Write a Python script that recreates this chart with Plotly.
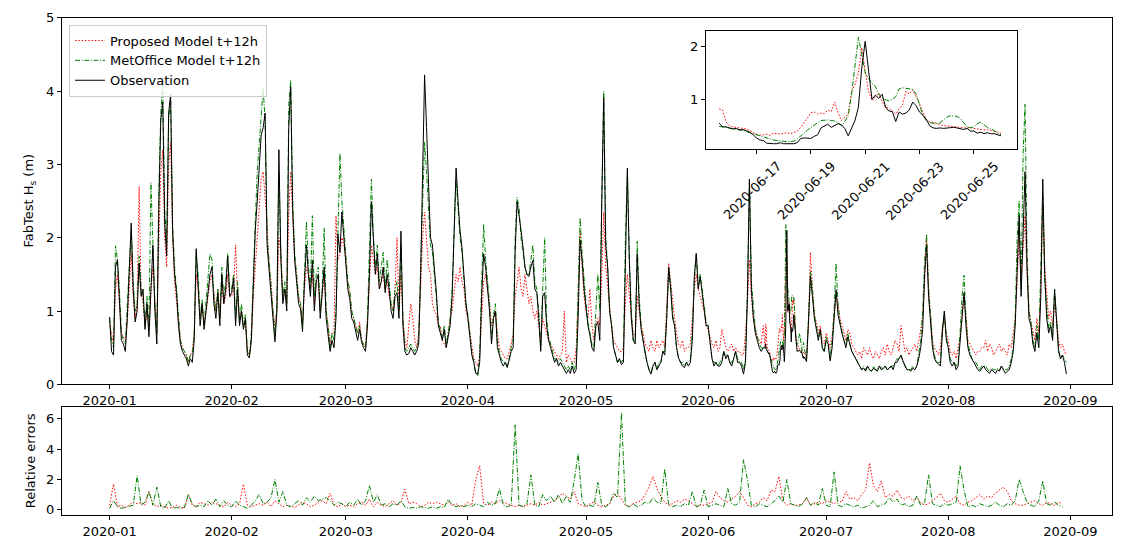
import pandas as pd
import plotly.graph_objects as go

# ---------------- data (12-hourly, per month) ----------------
month_starts = ["2020-01-01", "2020-02-01", "2020-03-01", "2020-04-01",
                "2020-05-01", "2020-06-01", "2020-07-01", "2020-08-01"]

obs_jan = [0.92,0.45, 0.40,1.6, 1.7,1.2, 0.6,0.55, 0.45,0.9, 1.5,2.2, 1.3,0.85, 1.0,1.65, 1.2,1.3, 0.75,1.1, 0.65,1.4, 1.9,1.0, 0.55,2.4, 3.6,3.85, 2.2,1.75, 3.7,3.95, 2.1,1.5, 1.25,0.8, 0.55,0.45, 0.4,0.35, 0.25,0.35, 0.3,0.6, 1.85,1.4, 0.8,1.1, 0.75,1.0, 1.3,1.5, 1.6,1.1, 0.9,1.25, 0.8,1.5, 1.1,1.3, 1.75,1.2]
obs_feb = [1.25,1.45, 0.8,1.3, 0.8,1.0, 0.75,0.9, 0.4,0.36, 0.6,1.5, 2.1,2.5, 3.0,3.4, 3.5,3.7, 1.9,1.6, 1.2,0.9, 0.58,1.0, 3.2,1.7, 1.1,1.3, 1.0,3.5, 4.06,2.4, 1.7,1.4, 1.1,1.03, 0.72,1.4, 1.9,1.5, 1.2,1.69, 1.0,1.4, 1.5,0.9, 1.2,1.6, 0.9,0.7, 0.45,0.6, 0.5,0.9, 2.05,1.8, 2.35,2.0]
obs_mar = [1.6,1.3, 1.16,0.9, 0.85,0.7, 0.6,0.75, 0.58,0.5, 0.45,0.8, 1.5,2.49, 1.9,1.5, 1.78,1.3, 1.4,1.6, 1.25,1.5, 1.3,1.0, 0.9,1.2, 1.25,0.9, 2.09,0.8, 0.45,0.4, 0.42,0.5, 0.45,0.4, 0.45,0.55, 1.5,2.8, 4.22,3.5, 2.6,2.0, 1.9,1.6, 1.25,0.8, 0.7,0.6, 0.75,0.5, 0.65,0.8, 1.2,2.0, 2.95,2.5, 2.1,1.87, 1.5,1.1]
obs_apr = [0.9,0.6, 0.4,0.3, 0.15,0.14, 0.3,1.2, 1.78,1.6, 1.34,1.0, 0.55,0.9, 1.0,0.5, 0.4,0.3, 0.25,0.3, 0.23,0.35, 0.45,0.5, 1.8,2.49, 2.31,2.1, 1.87,1.6, 1.5,1.47, 1.6,1.69, 1.3,1.25, 0.9,0.45, 1.2,1.25, 0.8,0.6, 0.5,0.4, 0.3,0.35, 0.25,0.3, 0.25,0.2, 0.15,0.2, 0.15,0.25, 0.15,0.2, 0.9,1.96, 1.69,1.3]
obs_may = [1.0,0.8, 0.67,0.5, 0.45,0.8, 0.85,0.6, 2.5,3.91, 1.9,1.6, 1.0,0.8, 0.5,0.4, 0.3,0.35, 0.27,0.3, 1.8,2.95, 1.69,0.9, 0.6,0.55, 1.78,1.1, 0.75,0.6, 0.4,0.3, 0.2,0.14, 0.25,0.3, 0.2,0.25, 0.3,0.45, 0.4,0.9, 1.6,1.3, 0.9,0.8, 0.5,0.36, 0.3,0.25, 0.23,0.3, 0.25,0.3, 0.6,1.47, 1.78,1.3, 1.47,1.25, 1.1,0.8]
obs_jun = [0.8,0.6, 0.35,0.25, 0.3,0.25, 0.25,0.3, 0.45,0.35, 0.4,0.3, 0.25,0.35, 0.45,0.3, 0.3,0.25, 0.14,0.3, 1.2,2.8, 1.3,0.9, 0.7,0.6, 0.5,0.45, 0.5,0.5, 0.45,0.4, 0.25,0.16, 0.16,0.18, 0.28,0.5, 0.53,0.45, 2.1,1.0, 0.77,0.74, 0.75,0.46, 0.46,0.45, 0.4,0.37, 0.31,0.85, 1.47,1.2, 0.9,0.75, 0.6,0.75, 0.5,0.45]
obs_jul = [0.6,0.55, 0.32,0.5, 0.9,1.29, 0.95,0.8, 0.7,0.6, 0.5,0.65, 0.55,0.45, 0.4,0.35, 0.3,0.25, 0.2,0.22, 0.18,0.25, 0.2,0.18, 0.22,0.2, 0.18,0.25, 0.2,0.22, 0.25,0.2, 0.22,0.25, 0.2,0.3, 0.3,0.35, 0.4,0.32, 0.25,0.2, 0.2,0.18, 0.22,0.2, 0.25,0.35, 0.5,0.75, 1.5,1.9, 1.2,0.9, 0.5,0.35, 0.3,0.28, 0.25,0.7, 1.0,0.6]
obs_aug = [0.5,0.3, 0.25,0.3, 0.2,0.25, 0.6,1.0, 1.25,0.8, 0.5,0.4, 0.35,0.3, 0.25,0.2, 0.18,0.22, 0.25,0.2, 0.18,0.15, 0.2,0.18, 0.15,0.2, 0.18,0.25, 0.2,0.15, 0.18,0.2, 0.3,0.45, 0.8,1.6, 2.3,1.2, 2.0,2.9, 1.6,0.9, 0.8,0.55, 0.45,0.7, 0.5,1.2, 2.8,1.5, 0.9,0.7, 0.8,0.6, 1.29,0.8, 0.45,0.35, 0.4,0.3, 0.14]

prop_jan = [0.8,0.7, 0.55,1.3, 1.5,1.1, 0.7,0.65, 0.6,0.85, 1.4,1.8, 1.2,0.9, 1.1,2.7, 1.3,1.1, 0.8,1.0, 0.75,1.3, 1.6,1.1, 0.7,1.9, 2.9,3.2, 2.0,1.6, 3.0,3.3, 2.0,1.4, 1.1,0.8, 0.6,0.5, 0.45,0.4, 0.3,0.4, 0.45,0.7, 1.5,1.3, 0.9,1.1, 0.8,1.0, 1.2,1.4, 1.5,1.2, 1.0,1.3, 0.9,1.4, 1.1,1.2, 1.5,1.2]
prop_feb = [1.2,1.3, 1.9,1.2, 0.9,1.0, 0.8,0.85, 0.45,0.4, 0.6,1.2, 1.6,2.0, 2.3,2.8, 2.9,2.5, 2.2,1.6, 1.4,1.0, 0.8,1.0, 2.0,1.8, 1.2,1.3, 1.1,2.3, 2.9,2.3, 1.7,1.5, 1.2,1.1, 0.85,1.3, 1.6,1.5, 1.3,1.5, 1.1,1.4, 1.4,1.0, 1.2,1.5, 1.0,0.8, 0.55,0.7, 0.7,2.3, 1.7,1.8, 2.0,1.9]
prop_mar = [1.7,1.4, 1.2,1.0, 0.9,0.8, 0.7,0.85, 0.6,0.55, 0.5,0.9, 1.4,1.9, 1.7,1.5, 1.6,1.3, 1.4,1.5, 1.3,1.4, 1.2,1.1, 1.0,1.3, 2.0,1.0, 1.5,0.9, 0.6,0.5, 0.8,1.1, 0.9,0.6, 0.5,0.7, 1.3,2.0, 2.35,2.0, 1.6,1.5, 1.1,1.0, 0.95,0.8, 0.8,0.6, 0.55,0.5, 0.7,0.9, 1.0,1.3, 1.5,1.4, 1.6,1.4, 1.3,1.0]
prop_apr = [0.9,0.7, 0.5,0.35, 0.3,0.25, 0.4,1.0, 1.4,1.5, 1.3,1.1, 0.8,0.9, 1.0,0.7, 0.5,0.45, 0.4,0.35, 0.35,0.45, 0.55,0.7, 1.2,1.4, 1.6,1.3, 1.2,1.5, 1.3,1.1, 1.2,1.0, 0.9,1.0, 0.8,0.6, 0.9,0.8, 0.7,0.6, 0.55,0.5, 0.45,0.4, 0.35,0.4, 0.45,1.0, 0.3,0.4, 0.35,0.3, 0.3,0.5, 1.2,2.1, 1.6,1.2]
prop_may = [1.0,0.9, 1.3,0.8, 0.6,0.8, 0.9,0.8, 1.5,2.35, 1.6,1.3, 1.0,0.8, 0.6,0.55, 0.5,0.45, 0.45,0.5, 1.1,1.5, 1.2,0.9, 0.7,0.65, 1.2,1.0, 0.8,0.7, 0.55,0.5, 0.45,0.6, 0.5,0.45, 0.6,0.5, 0.55,0.6, 0.5,1.0, 1.65,1.4, 1.1,0.9, 0.7,0.55, 0.5,0.6, 0.45,0.5, 0.5,0.55, 0.9,1.3, 1.5,1.3, 1.2,1.1, 1.0,0.8]
prop_jun = [0.75,0.65, 0.55,0.5, 0.6,0.45, 0.5,0.75, 0.6,0.5, 0.45,0.5, 0.55,0.45, 0.5,0.45, 0.45,0.4, 0.4,0.7, 1.1,1.7, 1.2,0.9, 0.75,0.65, 0.6,0.55, 0.8,0.5, 0.47,0.44, 0.34,0.33, 0.36,0.4, 0.75,0.73, 0.75,0.66, 1.98,1.1, 0.78,0.9, 0.92,0.57, 0.5,0.48, 0.47,0.44, 0.4,0.8, 1.8,1.3, 0.95,0.85, 0.7,0.8, 0.6,0.55]
prop_jul = [0.7,0.6, 0.5,0.65, 0.9,1.2, 1.1,0.9, 0.8,0.7, 0.6,0.75, 0.7,0.55, 0.5,0.45, 0.4,0.45, 0.35,0.5, 0.45,0.4, 0.5,0.4, 0.35,0.45, 0.4,0.35, 0.45,0.5, 0.4,0.55, 0.45,0.4, 0.5,0.6, 0.55,0.45, 0.8,0.6, 0.45,0.5, 0.4,0.45, 0.5,0.55, 0.45,0.6, 0.7,0.9, 1.4,2.0, 1.3,0.95, 0.6,0.5, 0.45,0.4, 0.5,0.8, 0.9,0.7]
prop_aug = [0.6,0.45, 0.4,0.45, 0.35,0.5, 0.65,0.9, 1.2,0.95, 0.6,0.55, 0.5,0.45, 0.4,0.45, 0.45,0.5, 0.5,0.6, 0.45,0.55, 0.5,0.4, 0.45,0.5, 0.55,0.45, 0.5,0.45, 0.4,0.55, 0.5,0.7, 0.9,1.4, 2.0,1.4, 1.9,2.3, 1.5,1.0, 0.85,0.7, 0.6,0.9, 0.7,1.3, 2.4,1.6, 1.2,0.9, 1.0,0.8, 1.1,0.9, 0.6,0.5, 0.55,0.45, 0.4]

met_jan = [0.9,0.6, 0.5,1.89, 1.7,1.3, 0.7,0.6, 0.55,1.0, 1.6,2.1, 1.4,1.0, 1.1,1.75, 1.3,1.2, 0.8,1.2, 0.8,2.75, 2.0,1.1, 0.7,2.6, 3.7,4.1, 2.4,1.9, 3.6,3.9, 2.2,1.6, 1.3,0.9, 0.6,0.5, 0.45,0.4, 0.3,0.4, 0.4,0.7, 1.8,1.5, 0.9,1.15, 0.8,1.1, 1.4,1.78, 1.7,1.2, 1.0,1.3, 0.9,1.6, 1.2,1.4, 1.78,1.3]
met_feb = [1.3,1.5, 0.9,1.4, 0.85,1.1, 0.8,0.95, 0.45,0.4, 0.7,1.6, 2.2,2.9, 3.3,3.6, 4.04,3.6, 2.0,1.7, 1.3,1.0, 0.65,1.1, 2.9,1.8, 1.2,1.4, 1.1,3.8, 4.15,2.5, 1.8,1.5, 1.2,1.1, 0.8,1.5, 2.22,1.6, 1.3,2.3, 1.2,1.5, 1.6,1.0, 1.3,2.13, 1.0,0.8, 0.5,0.7, 0.6,1.0, 2.3,3.15, 2.5,2.1]
met_mar = [1.7,1.4, 1.3,1.0, 0.9,0.8, 0.7,0.8, 0.6,0.55, 0.5,0.9, 1.7,2.8, 2.0,1.6, 1.9,1.4, 1.6,1.8, 1.3,1.7, 1.4,1.1, 1.0,1.3, 1.4,1.0, 1.9,0.9, 0.5,0.45, 0.5,0.55, 0.5,0.45, 0.5,0.6, 1.6,2.5, 3.3,2.9, 2.3,1.9, 1.8,1.5, 1.2,0.85, 0.75,0.65, 0.8,0.55, 0.7,0.9, 1.3,2.2, 2.8,2.4, 2.0,1.8, 1.5,1.1]
met_apr = [0.95,0.65, 0.45,0.3, 0.15,0.12, 0.4,1.4, 2.18,1.7, 1.4,1.1, 0.6,0.95, 1.1,0.55, 0.45,0.35, 0.3,0.3, 0.25,0.35, 0.5,0.6, 2.0,2.55, 2.4,2.0, 1.8,1.6, 1.5,1.5, 1.7,1.9, 1.4,1.3, 1.0,0.5, 1.3,2.0, 0.9,0.65, 0.55,0.45, 0.35,0.35, 0.3,0.35, 0.3,0.25, 0.2,0.25, 0.2,0.3, 0.2,0.3, 1.2,2.27, 1.8,1.4]
met_may = [1.1,0.85, 0.7,0.55, 0.5,1.0, 1.5,1.0, 2.8,4.0, 2.0,1.6, 1.0,0.8, 0.5,0.4, 0.3,0.35, 0.3,0.35, 2.0,2.9, 1.7,1.0, 0.6,0.6, 1.95,1.2, 0.8,0.6, 0.4,0.3, 0.2,0.15, 0.25,0.3, 0.2,0.3, 0.3,0.45, 0.45,0.95, 1.55,1.35, 0.95,0.8, 0.5,0.35, 0.3,0.3, 0.25,0.3, 0.3,0.35, 0.7,1.4, 1.8,1.35, 1.5,1.3, 1.1,0.85]
met_jun = [0.8,0.6, 0.35,0.3, 0.3,0.25, 0.3,0.35, 0.45,0.4, 0.4,0.3, 0.3,0.35, 0.45,0.35, 0.3,0.3, 0.2,0.35, 1.3,2.75, 1.4,1.0, 0.75,0.65, 0.55,0.5, 0.5,0.49, 0.46,0.43, 0.32,0.24, 0.21,0.2, 0.4,0.56, 0.6,0.5, 1.5,1.1, 1.0,1.2, 0.7,0.54, 0.66,0.64, 0.48,0.57, 0.33,0.9, 1.55,1.3, 0.95,0.8, 0.65,0.75, 0.5,0.45]
met_jul = [0.65,0.55, 0.35,0.6, 1.0,1.65, 1.1,0.85, 0.7,0.6, 0.55,0.7, 0.55,0.45, 0.4,0.35, 0.3,0.25, 0.2,0.25, 0.2,0.25, 0.2,0.18, 0.25,0.2, 0.2,0.25, 0.22,0.2, 0.25,0.2, 0.2,0.25, 0.25,0.3, 0.35,0.35, 0.4,0.3, 0.25,0.2, 0.2,0.2, 0.25,0.2, 0.25,0.4, 0.6,1.0, 1.7,2.05, 1.3,0.95, 0.55,0.4, 0.3,0.3, 0.3,0.75, 1.0,0.65]
met_aug = [0.5,0.35, 0.3,0.3, 0.25,0.3, 0.7,1.2, 1.49,0.9, 0.55,0.45, 0.35,0.3, 0.3,0.25, 0.2,0.25, 0.25,0.25, 0.2,0.18, 0.22,0.2, 0.2,0.22, 0.2,0.25, 0.22,0.2, 0.2,0.25, 0.35,0.5, 0.9,2.0, 2.5,1.3, 3.13,3.82, 1.8,1.0, 0.85,0.6, 0.5,0.8, 0.6,1.5, 2.6,1.4, 1.0,0.75, 0.85,0.65, 1.3,0.85, 0.5,0.35, 0.4,0.35, 0.3]

# ---------------- inset period (3-hourly from 2020-06-15 15:00) ----------------
inset_start = "2020-06-15 15:00"
obs_inset = [0.55,0.48,0.48,0.46,0.44,0.45,0.42,0.43,0.41,0.38,0.33,0.27,0.23,0.22,0.17,0.16,
             0.16,0.16,0.18,0.16,0.16,0.15,0.16,0.18,0.26,0.27,0.27,0.26,0.30,0.33,0.46,0.50,
             0.53,0.47,0.50,0.54,0.52,0.45,0.31,0.45,0.60,0.85,1.60,2.10,1.50,1.00,1.08,1.02,
             1.10,0.85,0.78,0.77,0.58,0.76,0.72,0.74,0.80,0.95,0.88,0.76,0.70,0.62,0.50,0.46,
             0.45,0.46,0.45,0.46,0.46,0.47,0.46,0.45,0.43,0.45,0.40,0.40,0.36,0.38,0.35,0.37,
             0.35,0.35,0.33,0.31]
prop_inset = [0.82,0.80,0.58,0.50,0.48,0.47,0.47,0.45,0.44,0.41,0.37,0.34,0.32,0.33,0.34,0.32,
              0.36,0.35,0.34,0.36,0.37,0.35,0.37,0.40,0.47,0.55,0.65,0.75,0.76,0.72,0.74,0.73,
              0.80,0.77,0.95,0.75,0.60,0.66,0.72,1.15,1.28,1.50,1.98,1.55,1.15,0.98,1.05,1.12,
              0.95,0.85,0.84,0.78,0.72,0.82,0.90,1.15,1.10,1.18,1.05,0.92,0.75,0.62,0.58,0.57,
              0.55,0.52,0.50,0.50,0.49,0.48,0.48,0.47,0.46,0.46,0.47,0.45,0.44,0.43,0.42,0.43,
              0.41,0.40,0.38,0.36]
met_inset = [0.49,0.48,0.47,0.46,0.45,0.44,0.42,0.41,0.39,0.37,0.34,0.32,0.30,0.28,0.26,0.24,
             0.23,0.22,0.21,0.20,0.20,0.20,0.21,0.25,0.30,0.36,0.42,0.47,0.52,0.56,0.60,0.61,
             0.61,0.60,0.59,0.56,0.50,0.58,0.70,1.10,1.70,2.18,1.85,1.50,1.40,1.30,1.25,1.10,
             1.02,1.00,0.97,1.00,1.05,1.20,1.22,1.21,1.20,1.19,1.10,0.90,0.70,0.60,0.56,0.55,
             0.54,0.55,0.60,0.66,0.69,0.69,0.68,0.64,0.55,0.48,0.46,0.48,0.54,0.57,0.52,0.47,
             0.44,0.41,0.36,0.33]

# ---------------- relative errors (daily) ----------------
errp_jan = [0.3,1.7,0.2,0.3,0.15,0.3,0.5,0.4,0.5,0.3,1.2,0.4,0.2,0.3,0.2,0.1,0.15,0.3,0.15,0.1,1.0,0.3,0.2,0.5,0.4,0.3,0.5,0.4,0.3,0.2,0.5]
errp_feb = [0.3,0.2,0.4,1.7,0.3,0.2,0.3,0.4,0.3,0.5,0.2,0.6,0.4,0.2,0.3,0.2,0.15,0.3,0.5,0.4,0.2,0.3,0.5,0.6,0.4,1.1,0.3,0.2,0.4]
errp_mar = [0.2,0.3,0.2,0.4,0.5,0.3,0.7,0.2,0.5,0.3,0.2,0.4,0.6,0.3,0.5,1.35,0.4,0.5,0.4,0.2,0.3,0.5,0.4,0.5,0.4,0.3,0.5,0.3,0.4,0.2,0.3]
errp_apr = [0.5,0.3,2.0,2.9,0.4,0.3,0.5,0.4,0.6,0.5,0.4,0.3,0.2,0.3,0.2,0.3,0.4,0.3,0.5,0.3,0.4,0.5,0.6,0.8,1.1,0.9,0.7,1.2,0.4,0.3]
errp_may = [0.2,0.4,0.5,0.3,0.2,0.3,0.4,0.9,1.1,0.7,0.3,0.2,0.4,0.5,0.6,1.0,1.5,2.2,1.4,0.9,0.5,0.3,0.4,0.6,0.5,0.7,0.6,0.4,0.2,0.3,0.3]
errp_jun = [0.4,0.5,1.2,0.8,0.6,0.5,0.7,0.9,1.2,0.8,0.3,0.2,0.4,0.5,0.8,0.6,1.3,1.2,2.2,0.6,0.3,0.4,0.3,0.3,0.4,0.8,0.3,0.4,0.5,0.4]
errp_jul = [0.6,0.5,0.4,0.6,0.5,1.2,0.7,0.8,0.6,1.0,1.3,3.1,1.6,1.2,1.9,0.8,1.0,0.9,1.3,0.8,0.7,0.9,0.6,0.8,0.5,0.3,0.4,0.6,0.8,1.1,0.6]
errp_aug = [0.5,0.7,0.9,0.4,0.3,0.5,0.6,0.8,1.0,0.7,0.9,0.8,1.1,1.3,1.5,1.2,0.6,0.4,0.3,0.3,0.4,0.5,0.6,0.4,0.3,0.5,0.4,0.3,0.5,0.4]

errm_jan = [0.1,0.6,0.2,0.1,0.15,0.2,0.3,2.25,0.3,0.5,1.2,0.3,1.5,0.2,0.1,0.6,0.1,0.15,0.1,0.15,1.0,0.4,0.2,0.3,0.2,0.6,0.3,0.7,0.2,0.6,0.3]
errm_feb = [0.2,0.6,0.3,0.2,0.1,0.3,0.6,1.0,0.4,0.5,0.8,2.0,0.5,1.2,0.3,0.2,0.4,0.6,0.3,0.8,0.5,0.9,0.6,0.7,0.8,0.6,0.3,0.5,0.4]
errm_mar = [0.2,0.5,0.3,0.7,0.3,0.6,1.6,0.5,1.0,0.3,0.4,0.2,0.4,0.3,0.6,0.2,0.1,0.15,0.1,0.2,0.15,0.1,0.2,0.1,0.2,0.15,0.7,0.3,0.2,0.3,0.2]
errm_apr = [0.3,0.2,0.4,0.3,0.2,0.5,0.3,0.4,1.4,0.3,0.2,0.3,5.6,0.3,0.2,0.4,2.3,0.3,0.2,1.0,0.6,0.9,0.5,1.0,0.4,0.9,0.5,1.9,3.7,0.6]
errm_may = [0.2,0.3,0.2,1.8,0.3,0.2,0.4,1.1,0.8,6.4,0.3,0.2,0.4,0.2,0.3,0.5,0.4,0.8,0.5,0.4,2.7,0.3,0.2,0.3,0.2,0.4,0.3,1.2,0.2,0.3,1.3]
errm_jun = [0.2,0.3,0.4,0.3,0.2,1.4,0.4,0.3,0.5,3.3,2.0,0.3,0.2,0.4,0.3,0.2,0.4,0.6,0.9,0.5,2.0,0.4,0.3,0.2,0.4,0.8,0.3,0.5,0.3,1.4]
errm_jul = [0.3,0.2,2.5,0.3,0.2,0.4,0.3,0.2,0.3,0.1,0.2,0.3,0.6,0.2,0.3,0.4,0.8,0.5,0.7,0.3,0.4,0.2,0.3,0.9,0.3,0.5,2.3,0.4,0.3,0.2,0.4]
errm_aug = [0.3,0.4,0.5,2.9,1.3,0.2,0.3,0.2,0.4,0.3,0.2,0.3,0.5,0.3,0.2,0.4,0.3,0.6,2.0,1.2,0.5,0.3,0.2,0.6,1.9,0.4,0.3,0.5,0.3,0.2]

inset_ticks = ["2020-06-17", "2020-06-19", "2020-06-21", "2020-06-23", "2020-06-25"]


# ---------------- build series ----------------
def build(lists, freq):
    ts, vs = [], []
    for start, vals in zip(month_starts, lists):
        ts.extend(pd.date_range(start, periods=len(vals), freq=freq))
        vs.extend(vals)
    return pd.Series(vs, index=pd.DatetimeIndex(ts))


inset_t = pd.date_range(inset_start, periods=len(obs_inset), freq="3h")


def merge(s12, inset_vals):
    ins = pd.Series(inset_vals, index=inset_t)
    keep = s12[(s12.index < inset_t[0]) | (s12.index > inset_t[-1])]
    return pd.concat([keep, ins]).sort_index()


obs = merge(build([obs_jan, obs_feb, obs_mar, obs_apr, obs_may, obs_jun, obs_jul, obs_aug], "12h"), obs_inset)
prop = merge(build([prop_jan, prop_feb, prop_mar, prop_apr, prop_may, prop_jun, prop_jul, prop_aug], "12h"), prop_inset)
met = merge(build([met_jan, met_feb, met_mar, met_apr, met_may, met_jun, met_jul, met_aug], "12h"), met_inset)
errp = build([errp_jan, errp_feb, errp_mar, errp_apr, errp_may, errp_jun, errp_jul, errp_aug], "D")
errm = build([errm_jan, errm_feb, errm_mar, errm_apr, errm_may, errm_jun, errm_jul, errm_aug], "D")

RED = "#ff0000"
GREEN = "#008000"
FONT = "DejaVu Sans"
DOT = "1.5px,1.8px"
DASHDOT = "5px,1.6px,1px,1.6px"

fig = go.Figure()
# main
fig.add_trace(go.Scatter(x=prop.index, y=prop.values, mode="lines", name="Proposed Model t+12h",
                         line=dict(color=RED, width=1, dash=DOT), xaxis="x", yaxis="y"))
fig.add_trace(go.Scatter(x=met.index, y=met.values, mode="lines", name="MetOffice Model t+12h",
                         line=dict(color=GREEN, width=1, dash=DASHDOT), xaxis="x", yaxis="y"))
fig.add_trace(go.Scatter(x=obs.index, y=obs.values, mode="lines", name="Observation",
                         line=dict(color="black", width=1), xaxis="x", yaxis="y"))
# errors
fig.add_trace(go.Scatter(x=errp.index, y=errp.values, mode="lines", showlegend=False,
                         line=dict(color=RED, width=1, dash=DOT), xaxis="x2", yaxis="y2"))
fig.add_trace(go.Scatter(x=errm.index, y=errm.values, mode="lines", showlegend=False,
                         line=dict(color=GREEN, width=1, dash=DASHDOT), xaxis="x2", yaxis="y2"))
# inset
fig.add_trace(go.Scatter(x=inset_t, y=prop_inset, mode="lines", showlegend=False,
                         line=dict(color=RED, width=1, dash=DOT), xaxis="x3", yaxis="y3"))
fig.add_trace(go.Scatter(x=inset_t, y=met_inset, mode="lines", showlegend=False,
                         line=dict(color=GREEN, width=1, dash=DASHDOT), xaxis="x3", yaxis="y3"))
fig.add_trace(go.Scatter(x=inset_t, y=obs_inset, mode="lines", showlegend=False,
                         line=dict(color="black", width=1), xaxis="x3", yaxis="y3"))

W, H = 1125, 548
axis_common = dict(showline=True, linecolor="black", linewidth=1, mirror=True, showgrid=False,
                   zeroline=False, ticks="outside", ticklen=4, tickwidth=1, tickcolor="black",
                   tickfont=dict(family=FONT, size=13, color="black"))
xr = ["2019-12-19 22:00", "2020-09-11 14:00"]
xdom = [62 / W, 1112 / W]

fig.update_layout(
    width=W, height=H, autosize=False,
    margin=dict(l=0, r=0, t=0, b=0),
    paper_bgcolor="white", plot_bgcolor="white",
    font=dict(family=FONT, size=13, color="black"),
    xaxis=dict(domain=xdom, anchor="y", range=xr, type="date", tickformat="%Y-%m",
               dtick="M1", tick0="2020-01-01", **axis_common),
    yaxis=dict(domain=[1 - 388 / H, 1 - 11 / H], anchor="x", range=[0, 5],
               tickvals=[0, 1, 2, 3, 4, 5], **axis_common),
    xaxis2=dict(domain=xdom, anchor="y2", range=xr, type="date", tickformat="%Y-%m",
                dtick="M1", tick0="2020-01-01", **axis_common),
    yaxis2=dict(domain=[1 - 522.7 / H, 1 - 411.7 / H], anchor="x2", range=[-0.37, 6.75],
                tickvals=[0, 2, 4, 6], **axis_common),
    xaxis3=dict(domain=[706 / W, 1017 / W], anchor="y3", type="date",
                range=["2020-06-15 03:20", "2020-06-26 14:10"], tickvals=inset_ticks,
                showticklabels=False, **axis_common),
    yaxis3=dict(domain=[1 - 146 / H, 1 - 24.7 / H], anchor="x3", range=[0.06, 2.295],
                tickvals=[1, 2], **axis_common),
    legend=dict(x=69 / W, y=1 - 18 / H, xanchor="left", yanchor="top",
                bgcolor="rgba(255,255,255,0.8)", bordercolor="#cccccc", borderwidth=1,
                font=dict(family=FONT, size=13, color="black"), itemwidth=30,
                tracegroupgap=0),
    showlegend=True,
)

annotations = [
    dict(text="FabTest H<sub>s</sub> (m)", x=30 / W, y=1 - 199 / H, xref="paper", yref="paper",
         textangle=-90, showarrow=False, xanchor="center", yanchor="middle",
         font=dict(family=FONT, size=13, color="black")),
    dict(text="Relative errors", x=30 / W, y=1 - 467 / H, xref="paper", yref="paper",
         textangle=-90, showarrow=False, xanchor="center", yanchor="middle",
         font=dict(family=FONT, size=13, color="black")),
]
for d in inset_ticks:
    annotations.append(dict(text=d, x=d, xref="x3", y=1 - 189 / H, yref="paper",
                            textangle=-45, showarrow=False, xanchor="center", yanchor="middle",
                            xshift=-4, font=dict(family=FONT, size=13, color="black")))
fig.update_layout(annotations=annotations)

fig.write_html("out.html")
